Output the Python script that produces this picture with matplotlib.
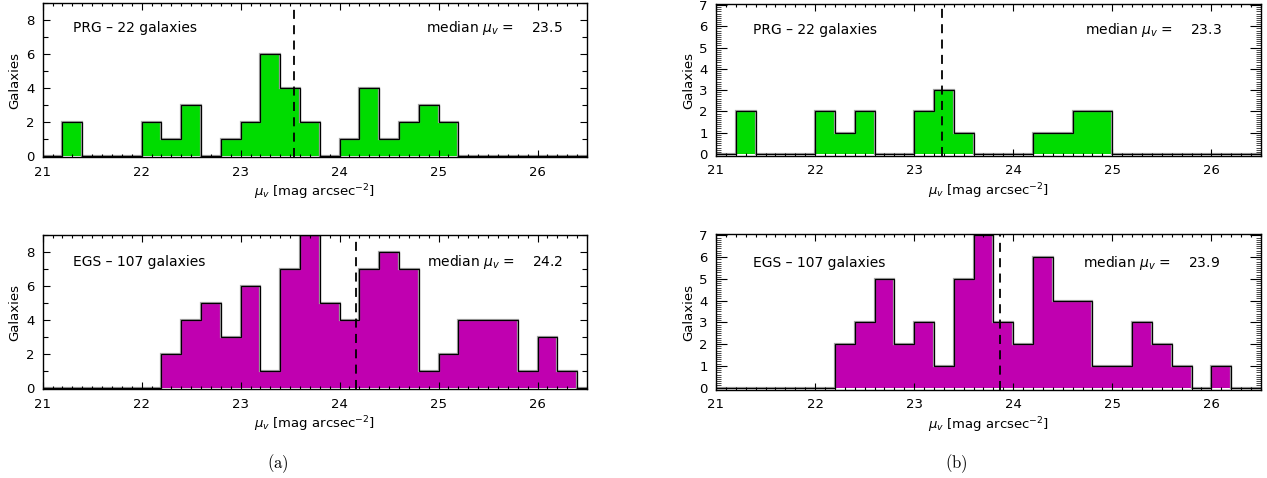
"""
Surface brightness histograms, PRG vs EGS
"""

import numpy as np
import matplotlib
matplotlib.use('Agg')
import matplotlib.pyplot as plt
from matplotlib.ticker import MultipleLocator

plt.rcParams['font.family'] = 'DejaVu Sans'
plt.rcParams['mathtext.fontset'] = 'dejavusans'

# bins of 0.2 mag starting at 21.0
bin_start = 21.0
bin_width = 0.2

prg_a = [0, 2, 0, 0, 0, 2, 1, 3, 0, 1, 2, 6, 4, 2, 0, 1, 4, 1, 2, 3, 2, 0, 0, 0, 0, 0, 0, 0]
egs_a = [0, 0, 0, 0, 0, 0, 2, 4, 5, 3, 6, 1, 7, 9, 5, 4, 7, 8, 7, 1, 2, 4, 4, 4, 1, 3, 1, 0]
prg_b = [0, 2, 0, 0, 0, 2, 1, 2, 0, 0, 2, 3, 1, 0, 0, 0, 1, 1, 2, 2, 0, 0, 0, 0, 0, 0, 0, 0]
egs_b = [0, 0, 0, 0, 0, 0, 2, 3, 5, 2, 3, 1, 5, 7, 3, 2, 6, 4, 4, 1, 1, 3, 2, 1, 0, 1, 0, 0]

median_line = {'a_prg': 23.54, 'a_egs': 24.17, 'b_prg': 23.28, 'b_egs': 23.87}
median_text = {'a_prg': '23.5', 'a_egs': '24.2', 'b_prg': '23.3', 'b_egs': '23.9'}

edges = bin_start + bin_width * np.arange(len(prg_a) + 1)

green = '#00dc00'
magenta = '#c000b0'

fig = plt.figure(figsize=(12.67, 4.78), dpi=100)

# [left, bottom, width, height], label x/y positions of the texts
panels = [
    ([0.0337, 0.6709, 0.4296, 0.3228], prg_a, green, 'PRG', 22, 'a_prg', 9, 2, 1, 0.056, 0.836, 0.956),
    ([0.0337, 0.1856, 0.4296, 0.3228], egs_a, magenta, 'EGS', 107, 'a_egs', 9, 2, 1, 0.056, 0.827, 0.956),
    ([0.5651, 0.6736, 0.4301, 0.3180], prg_b, green, 'PRG', 22, 'b_prg', 7.05, 1, 0.1, 0.068, 0.830, 0.928),
    ([0.5651, 0.1847, 0.4301, 0.3250], egs_b, magenta, 'EGS', 107, 'b_egs', 7.05, 1, 0.1, 0.068, 0.813, 0.925),
]

for pos, counts, col, name, ngal, key, ymax, ymaj, ymin, tx, ty, rx in panels:
    ax = fig.add_axes(pos)
    ax.stairs(counts, edges, baseline=0, fill=True, color=col, lw=0)
    ax.stairs(counts, edges, baseline=0, color='0.65', lw=1.6)
    ax.stairs(counts, edges, baseline=0, color='k', lw=0.9)
    ax.axvline(median_line[key], color='k', ls=(0, (5, 3.5)), lw=1.3)

    ax.set_xlim(21, 26.5)
    ax.set_ylim(-0.1, ymax)
    ax.xaxis.set_major_locator(MultipleLocator(1))
    ax.xaxis.set_minor_locator(MultipleLocator(0.1))
    ax.yaxis.set_major_locator(MultipleLocator(ymaj))
    ax.yaxis.set_minor_locator(MultipleLocator(ymin))
    ax.tick_params(which='both', direction='in', top=True, right=True,
                   labelsize=9.5, width=0.8, pad=6)
    ax.tick_params(axis='x', which='major', length=5)
    ax.tick_params(axis='x', which='minor', length=2.5)
    if ymaj == 1:
        ax.tick_params(axis='y', which='major', length=8)
        ax.tick_params(axis='y', which='minor', length=3.5, width=0.5)
    else:
        ax.tick_params(axis='y', which='major', length=5)
        ax.tick_params(axis='y', which='minor', length=3.5)
    for s in ax.spines.values():
        s.set_linewidth(1.0)

    ax.set_xlabel(r'$\mu_v$ [mag arcsec$^{-2}$]', fontsize=9.5, labelpad=3)
    ax.set_ylabel('Galaxies', fontsize=9.5, labelpad=3)

    ax.text(tx, ty, '%s – %d galaxies' % (name, ngal), transform=ax.transAxes,
            fontsize=10, ha='left', va='center')
    ax.text(rx, ty, r'median $\mu_v$ =    %s' % median_text[key], transform=ax.transAxes,
            fontsize=10, ha='right', va='center')

fig.text(0.2194, 0.031, r'$\mathrm{(a)}$', fontsize=12, ha='center', va='center',
         math_fontfamily='cm')
fig.text(0.7545, 0.031, r'$\mathrm{(b)}$', fontsize=12, ha='center', va='center',
         math_fontfamily='cm')

fig.savefig('out.png', dpi=100)
